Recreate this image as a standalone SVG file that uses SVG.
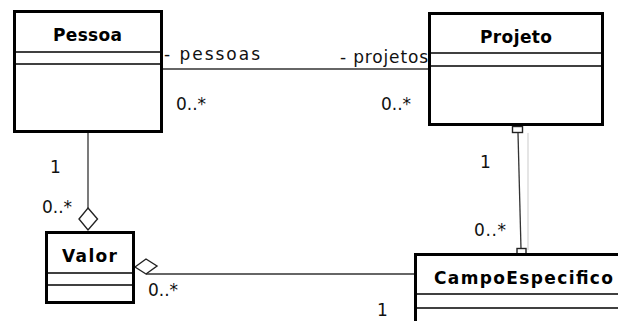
<svg xmlns="http://www.w3.org/2000/svg" width="618" height="321" viewBox="0 0 618 321">
  <style>
    .box { fill: #ffffff; stroke: #000000; stroke-width: 3; }
    .div { stroke: #000000; stroke-width: 1.5; fill: none; }
    .title { font-family: "DejaVu Sans", Verdana, sans-serif; font-weight: bold; font-size: 17px; fill: #000000; }
    .lbl { font-family: "DejaVu Sans", Verdana, sans-serif; font-size: 17px; fill: #111111; }
    .edge { stroke: #333333; stroke-width: 1.3; fill: none; }
    .agg { fill: #ffffff; stroke: #222222; stroke-width: 1.4; }
    .end { fill: #ffffff; stroke: #222222; stroke-width: 1.4; }
  </style>
  <rect width="618" height="321" fill="#ffffff"/>

  <!-- connectors -->
  <g id="connectors">
    <!-- Pessoa - Projeto association -->
    <line class="edge" x1="163" y1="69" x2="428" y2="69"/>
    <text class="lbl" x="164" y="60" textLength="96" lengthAdjust="spacing">- pessoas</text>
    <text class="lbl" x="176" y="110" textLength="30" lengthAdjust="spacing">0..*</text>
    <text class="lbl" x="340" y="63" textLength="88" lengthAdjust="spacing">- projetos</text>
    <text class="lbl" x="381" y="110" textLength="30" lengthAdjust="spacing">0..*</text>

    <!-- Pessoa - Valor aggregation -->
    <line class="edge" x1="88" y1="133" x2="88" y2="208"/>
    <polygon class="agg" points="88,208 97.5,219 88,230 79,219"/>
    <text class="lbl" x="50" y="173">1</text>
    <text class="lbl" x="42" y="213" textLength="30" lengthAdjust="spacing">0..*</text>

    <!-- Valor - CampoEspecifico aggregation -->
    <line class="edge" x1="146" y1="274" x2="414" y2="274"/>
    <polygon class="agg" points="135,267 146,259 157,266 146,274"/>
    <text class="lbl" x="148" y="296" textLength="30" lengthAdjust="spacing">0..*</text>
    <text class="lbl" x="377" y="316">1</text>

    <!-- Projeto - CampoEspecifico association -->
    <line x1="528" y1="133" x2="528" y2="250" stroke="#dddddd" stroke-width="1.5"/>
    <line class="edge" x1="518" y1="133" x2="521" y2="249"/>
    <rect class="end" x="512.5" y="126.5" width="10" height="6"/>
    <rect class="end" x="517" y="248.5" width="9" height="9"/>
    <text class="lbl" x="480" y="168">1</text>
    <text class="lbl" x="474" y="236" textLength="32" lengthAdjust="spacing">0..*</text>
  </g>

  <!-- Pessoa -->
  <g id="pessoa">
    <rect class="box" x="14.5" y="11.5" width="147" height="120"/>
    <line class="div" x1="14" y1="52" x2="162" y2="52"/>
    <line class="div" x1="14" y1="64" x2="162" y2="64"/>
    <text class="title" x="53" y="41" textLength="69" lengthAdjust="spacing">Pessoa</text>
  </g>

  <!-- Projeto -->
  <g id="projeto">
    <rect class="box" x="429.5" y="13.5" width="173" height="111"/>
    <line class="div" x1="429" y1="53" x2="603" y2="53"/>
    <line class="div" x1="429" y1="66" x2="603" y2="66"/>
    <text class="title" x="480" y="43" textLength="72" lengthAdjust="spacing">Projeto</text>
  </g>

  <!-- Valor -->
  <g id="valor">
    <rect class="box" x="46.5" y="232.5" width="87" height="70"/>
    <line class="div" x1="46" y1="273" x2="134" y2="273"/>
    <line class="div" x1="46" y1="285" x2="134" y2="285"/>
    <text class="title" x="62" y="262" textLength="55" lengthAdjust="spacing">Valor</text>
  </g>

  <!-- CampoEspecifico -->
  <g id="campo-especifico">
    <rect class="box" x="415.5" y="254.5" width="220" height="100"/>
    <line class="div" x1="416" y1="294" x2="620" y2="294"/>
    <line class="div" x1="416" y1="308" x2="620" y2="308"/>
    <text class="title" x="434" y="284" textLength="179" lengthAdjust="spacing">CampoEspecifico</text>
  </g>
</svg>
